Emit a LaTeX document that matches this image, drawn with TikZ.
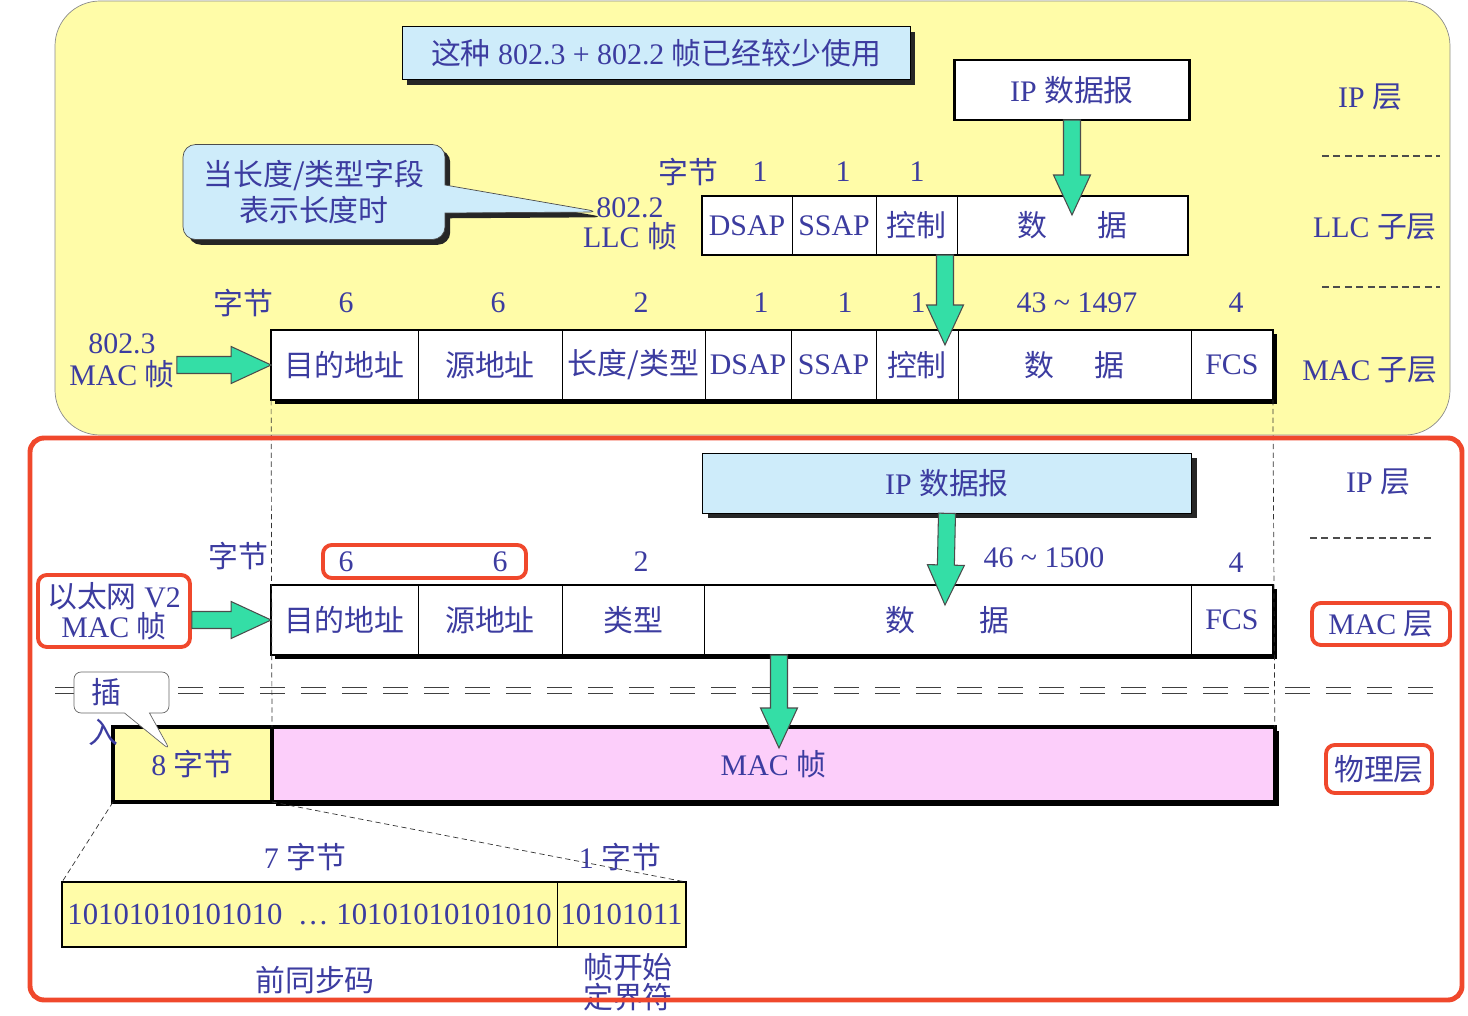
\documentclass[tikz,border=0pt]{standalone}
\usepackage{fontspec}
\setmainfont{Liberation Serif}
\newfontfamily\cjk{Noto Sans CJK SC}
\newcommand{\zh}[1]{{\cjk #1}}
\usepackage{tikz}
\usetikzlibrary{positioning,calc,shapes.callouts,shadows}
\definecolor{ink}{RGB}{60,60,160}
\definecolor{paleyellow}{RGB}{255,252,168}
\definecolor{paleblue}{RGB}{206,236,250}
\definecolor{palepink}{RGB}{252,206,250}
\definecolor{fatgreen}{RGB}{52,222,166}
\definecolor{markred}{RGB}{240,72,44}
\tikzstyle{lbl}=[text=ink,font=\fontsize{17}{19}\selectfont,inner sep=1pt]
\tikzstyle{cell}=[lbl,draw=black,thin,inner sep=0pt,outer sep=0pt]
\tikzstyle{llccell}=[cell,minimum height=1.18cm]
\tikzstyle{maccell}=[cell,minimum height=1.4cm]
\tikzstyle{precell}=[cell,minimum height=1.3cm]
\tikzstyle{plainbox}=[lbl,draw=black,line width=1.5pt,fill=white,inner sep=0pt,outer sep=0pt]
\tikzstyle{framebox}=[plainbox,drop shadow={shadow xshift=2.2pt,shadow yshift=-2.2pt,fill=black,opacity=1}]
\tikzstyle{notebox}=[lbl,draw=black,thin,fill=paleblue,drop shadow={shadow xshift=3pt,shadow yshift=-3pt,fill=black!85,opacity=1}]
\tikzstyle{bubble}=[lbl,rectangle callout,draw=black!70,fill=paleblue,rounded corners=0.25cm,callout pointer width=0.56cm,drop shadow={shadow xshift=3pt,shadow yshift=-3pt,fill=black!85,opacity=1}]
\tikzstyle{redmark}=[draw=markred,line width=2.2pt,rounded corners=5pt]
\tikzstyle{sepline}=[draw=black!70,line width=0.8pt,dash pattern=on 4pt off 2.5pt]
\tikzstyle{guideline}=[draw=black!80,thin,dash pattern=on 3pt off 2pt]
\tikzstyle{fatarrow}=[draw=black!70,fill=fatgreen,line width=0.6pt,
  to path={($(\tikztostart)!0.17cm!90:(\tikztotarget)$)
    -- ($(\tikztotarget)!0.8cm!(\tikztostart)!0.17cm!90:(\tikztotarget)$)
    -- ($(\tikztotarget)!0.8cm!(\tikztostart)!0.37cm!90:(\tikztotarget)$)
    -- (\tikztotarget)
    -- ($(\tikztotarget)!0.8cm!(\tikztostart)!0.37cm!-90:(\tikztotarget)$)
    -- ($(\tikztotarget)!0.8cm!(\tikztostart)!0.17cm!-90:(\tikztotarget)$)
    -- ($(\tikztostart)!0.17cm!-90:(\tikztotarget)$) -- cycle}]

\begin{document}
\begin{tikzpicture}[x=0.02cm,y=-0.02cm]
\useasboundingbox (0,0) rectangle (1468,1016);
\draw[draw=black!45,fill=paleyellow,rounded corners=0.9cm] (55,1) rectangle (1450,435);

% 802.3 + 802.2
\node[notebox,minimum width=10.16cm,minimum height=1.06cm] (oldnote) at (656,53) {\zh{这种} 802.3 + 802.2 \zh{帧已经较少使用}};
\node[plainbox,minimum width=4.7cm,minimum height=1.2cm] (iptop) at (1072,90) {IP \zh{数据报}};
\node[lbl] (iplayer) at (1370,97) {IP \zh{层}};
\node[lbl] (llclayer) at (1375,227) {LLC \zh{子层}};
\node[lbl] (maclayer) at (1370,370) {MAC \zh{子层}};
\draw[sepline] (1322,156) -- (1440,156);
\draw[sepline] (1322,287) -- (1440,287);

\coordinate (lentip) at (600,212);
\node[bubble,align=center,font=\fontsize{17}{21}\selectfont,minimum width=5.24cm,minimum height=1.9cm,callout absolute pointer={(lentip)}] (lennote) at (314,192) {\zh{当长度/类型字段}\\\zh{表示长度时}};
\node[lbl,align=center,font=\fontsize{17}{17}\selectfont] (llclabel) at (630,224) {802.2\\LLC \zh{帧}};

\node[plainbox,minimum width=9.72cm,minimum height=1.18cm] (llcframe) at (945,225.5) {};
\node[llccell,minimum width=1.8cm,right=0pt of llcframe.west] (llc1) {DSAP};
\node[llccell,minimum width=1.68cm,right=0pt of llc1] (llc2) {SSAP};
\node[llccell,minimum width=1.62cm,right=0pt of llc2] (llc3) {\zh{控制}};
\node[llccell,minimum width=4.62cm,right=0pt of llc3] (llc4) {\zh{数\hspace{1.0cm}据}};
\node[lbl] (llcbytes) at (688,172) {\zh{字节}};
\foreach \x [count=\i] in {760,843,917} \node[lbl] (llcn\i) at (\x,172) {1};

\node[framebox,minimum width=20.04cm,minimum height=1.4cm] (macframe) at (772,365) {};
\node[maccell,minimum width=2.94cm,right=0pt of macframe.west] (mac1) {\zh{目的地址}};
\node[maccell,minimum width=2.88cm,right=0pt of mac1] (mac2) {\zh{源地址}};
\node[maccell,minimum width=2.86cm,right=0pt of mac2] (mac3) {\zh{长度/类型}};
\node[maccell,minimum width=1.72cm,right=0pt of mac3] (mac4) {DSAP};
\node[maccell,minimum width=1.70cm,right=0pt of mac4] (mac5) {SSAP};
\node[maccell,minimum width=1.64cm,right=0pt of mac5] (mac6) {\zh{控制}};
\node[maccell,minimum width=4.66cm,right=0pt of mac6] (mac7) {\zh{数\hspace{0.8cm}据}};
\node[maccell,minimum width=1.64cm,right=0pt of mac7] (mac8) {FCS};
\node[lbl] (macbytes) at (243,303) {\zh{字节}};
\foreach \x/\n [count=\i] in {346/6,498/6,641/2,761/1,845/1,918/1,1077/{43 \textasciitilde{} 1497},1236/4}
  \node[lbl] (macn\i) at (\x,303) {\n};

\node[lbl,align=center,font=\fontsize{17}{18}\selectfont] (l8023) at (122,361) {802.3\\MAC \zh{帧}};
\coordinate (a8023) at (l8023.east |- mac1.west);
\draw[fatarrow] (a8023) to (mac1.west);
\coordinate (tipA) at (1072,215);
\draw[fatarrow] (iptop.south) to (tipA);
\coordinate (footB) at (945,255);
\coordinate (tipB) at (945,345);
\draw[fatarrow] (footB) to (tipB);

% Ethernet V2
\node[notebox,minimum width=9.78cm,minimum height=1.2cm] (ipbottom) at (947,483) {IP \zh{数据报}};
\node[lbl] (iplayer2) at (1378,482) {IP \zh{层}};
\draw[sepline] (1310,538) -- (1435,538);
\node[lbl] (ethbytes) at (238,556) {\zh{字节}};
\foreach \x/\y/\n [count=\i] in {346/562/6,500/562/6,641/562/2,1044/558/{46 \textasciitilde{} 1500},1236/563/4}
  \node[lbl] (ethn\i) at (\x,\y) {\n};
\draw[redmark] (323,545) rectangle (526,578);

\node[framebox,minimum width=20.04cm,minimum height=1.4cm] (ethframe) at (772,620) {};
\node[maccell,minimum width=2.94cm,right=0pt of ethframe.west] (eth1) {\zh{目的地址}};
\node[maccell,minimum width=2.88cm,right=0pt of eth1] (eth2) {\zh{源地址}};
\node[maccell,minimum width=2.84cm,right=0pt of eth2] (eth3) {\zh{类型}};
\node[maccell,minimum width=9.74cm,right=0pt of eth3] (eth4) {\zh{数\hspace{1.28cm}据}};
\node[maccell,minimum width=1.64cm,right=0pt of eth4] (eth5) {FCS};

\node[lbl,redmark,align=center,font=\fontsize{17}{17}\selectfont,inner sep=0pt,minimum width=3.04cm,minimum height=1.44cm] (ethlabel) at (114,611) {\zh{以太网} V2\\MAC \zh{帧}};
\coordinate (aeth) at (ethlabel.east |- eth1.west);
\draw[fatarrow] (aeth) to (eth1.west);
\node[lbl,redmark,minimum width=2.76cm,minimum height=0.84cm] (maclayer2) at (1381,624) {MAC \zh{层}};
\coordinate (tipC) at (945,605);
\draw[fatarrow] (ipbottom.south) to (tipC);

\draw[draw=black!75,line width=0.8pt,double=white,double distance=2.4pt,dash pattern=on 0.5cm off 0.32cm] (55,690.5) -- (1445,690.5);

% physical layer
\node[plainbox,fill=paleyellow,line width=2pt,minimum width=3.18cm,minimum height=1.5cm] (eightbytes) at (192.5,764.5) {8 \zh{字节}};
\node[framebox,fill=palepink,line width=2pt,minimum width=20.06cm,minimum height=1.5cm,right=0pt of eightbytes] (macbody) {MAC \zh{帧}};
\node[lbl,redmark,minimum width=2.12cm,minimum height=0.96cm] (phylayer) at (1379,769) {\zh{物理层}};
\coordinate (footD) at (779,655);
\coordinate (tipD) at (779,748);
\draw[fatarrow] (footD) to (tipD);
\draw[guideline] (macframe.south west) -- (macbody.north west);
\draw[guideline] (macframe.south east) -- (macbody.north east);

\coordinate (instip) at (170,750);
\node[lbl,rectangle callout,draw=black!60,fill=white,rounded corners=4pt,callout pointer width=0.5cm,callout absolute pointer={(instip)},text width=1.2cm,align=left,inner xsep=0.35cm,minimum height=0.82cm] (insnote) at (121.5,692.5) {\zh{插}};
\node[lbl] (insrest) at (103,732) {\zh{入}};

\node[plainbox,fill=paleyellow,line width=1.4pt,minimum width=12.48cm,minimum height=1.3cm] (prebox) at (374,914.5) {};
\node[precell,minimum width=9.9cm,right=0pt of prebox.west,font=\fontsize{17.5}{19}\selectfont] (pre1) {10101010101010\ \ \dots\ 10101010101010};
\node[precell,minimum width=2.58cm,right=0pt of pre1,font=\fontsize{17.5}{19}\selectfont] (pre2) {10101011};
\draw[guideline] (eightbytes.south west) -- (prebox.north west);
\draw[guideline] (eightbytes.south east) -- (prebox.north east);
\node[lbl] (sevenbytes) at (305,857) {7 \zh{字节}};
\node[lbl] (onebyte) at (620,857) {1 \zh{字节}};
\node[lbl] (preamble) at (315,980) {\zh{前同步码}};
\node[lbl,align=center,font=\fontsize{17}{17}\selectfont] (sfd) at (628,982) {\zh{帧开始}\\\zh{定界符}};

\draw[redmark,line width=2.8pt,rounded corners=8pt] (30,438) rectangle (1462,1000);
\end{tikzpicture}
\end{document}
